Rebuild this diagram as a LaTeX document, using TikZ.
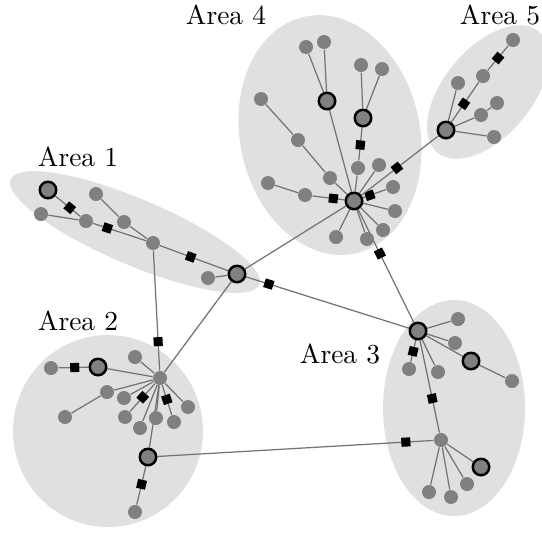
\documentclass[tikz,border=0pt]{standalone}
\usetikzlibrary{backgrounds}
\tikzset{
    mynode/.style = {circle, fill=gray, inner sep=0, minimum size=5.1pt},
    mynodet/.style = {circle, draw=black, line width=0.9pt, fill=gray, inner sep=0, minimum size=6pt},
    edgen/.style = {-, line width=0.45pt, black!55},
    sqr/.style = {rectangle, fill=black, inner sep=0, minimum size=3.3pt, sloped},
    area/.style = {fill=black!12},
    arealabel/.style = {inner sep=0},
}
\begin{document}
\begin{tikzpicture}[x=0.0128cm, y=-0.0128cm]
\useasboundingbox (0,0) rectangle (542,533);

% Area 1
\node[mynodet] at ( 48, 190) (a1) {};
\node[mynode]  at ( 41, 214) (a2) {};
\node[mynode]  at ( 86, 221) (a3) {};
\node[mynode]  at ( 96, 194) (a4) {};
\node[mynode]  at (124, 222) (a5) {};
\node[mynode]  at (153, 243) (a6) {};
\node[mynode]  at (208, 278) (a7) {};
\node[mynodet] at (237, 274) (a8) {};

% Area 2
\node[mynode]  at ( 51, 368) (b1) {};
\node[mynodet] at ( 98, 367) (b2) {};
\node[mynode]  at (160, 378) (b3) {};
\node[mynode]  at (135, 357) (b4) {};
\node[mynode]  at (107, 392) (b5) {};
\node[mynode]  at ( 65, 417) (b6) {};
\node[mynode]  at (124, 398) (b7) {};
\node[mynode]  at (125, 417) (b8) {};
\node[mynode]  at (140, 428) (b9) {};
\node[mynode]  at (156, 418) (b10) {};
\node[mynode]  at (174, 422) (b11) {};
\node[mynode]  at (188, 407) (b12) {};
\node[mynodet] at (148, 457) (b13) {};
\node[mynode]  at (135, 512) (b14) {};

% Area 3
\node[mynodet] at (418, 331) (c1) {};
\node[mynode]  at (458, 319) (c2) {};
\node[mynode]  at (455, 343) (c3) {};
\node[mynodet] at (471, 361) (c4) {};
\node[mynode]  at (512, 381) (c5) {};
\node[mynode]  at (409, 369) (c6) {};
\node[mynode]  at (438, 372) (c7) {};
\node[mynode]  at (441, 440) (c8) {};
\node[mynodet] at (481, 467) (c9) {};
\node[mynode]  at (467, 484) (c10) {};
\node[mynode]  at (451, 497) (c11) {};
\node[mynode]  at (429, 492) (c12) {};

% Area 4
\node[mynode]  at (306,  47) (d1) {};
\node[mynode]  at (324,  42) (d2) {};
\node[mynodet] at (327, 101) (d3) {};
\node[mynode]  at (361,  65) (d4) {};
\node[mynode]  at (382,  69) (d5) {};
\node[mynodet] at (363, 118) (d6) {};
\node[mynode]  at (358, 168) (d7) {};
\node[mynode]  at (261,  99) (d8) {};
\node[mynode]  at (298, 140) (d9) {};
\node[mynode]  at (330, 178) (d10) {};
\node[mynode]  at (379, 165) (d11) {};
\node[mynode]  at (268, 183) (d12) {};
\node[mynode]  at (305, 195) (d13) {};
\node[mynodet] at (354, 201) (d14) {};
\node[mynode]  at (393, 187) (d15) {};
\node[mynode]  at (395, 211) (d16) {};
\node[mynode]  at (383, 230) (d17) {};
\node[mynode]  at (367, 239) (d18) {};
\node[mynode]  at (336, 237) (d19) {};

% Area 5
\node[mynode]  at (513,  40) (e1) {};
\node[mynode]  at (483,  76) (e2) {};
\node[mynode]  at (458,  83) (e3) {};
\node[mynode]  at (497, 103) (e4) {};
\node[mynode]  at (481, 115) (e5) {};
\node[mynodet] at (446, 130) (e6) {};
\node[mynode]  at (494, 137) (e7) {};

\node[arealabel] at ( 78, 157) (l1) {Area 1};
\node[arealabel] at ( 78, 321) (l2) {Area 2};
\node[arealabel] at (340, 354) (l3) {Area 3};
\node[arealabel] at (226,  15) (l4) {Area 4};
\node[arealabel] at (500,  15) (l5) {Area 5};

\begin{scope}[on background layer]
\fill[area, rotate around={-23:(135,232)}] (135,232) ellipse [x radius=135, y radius=33];
\fill[area] (108,431) ellipse [x radius=95, y radius=96];
\fill[area] (454,408) ellipse [x radius=71, y radius=108];
\fill[area, rotate around={12:(330,135)}] (330,135) ellipse [x radius=90, y radius=121];
\fill[area, rotate around={50:(488,92)}] (488,92) ellipse [x radius=79, y radius=44];
\end{scope}

\begin{scope}[on background layer]
\draw[edgen] (a2) -- (a3);
\draw[edgen] (a1) -- node[sqr, pos=.58] {} (a3);
\draw[edgen] (a3) -- node[sqr, pos=.27] {} (a6);
\draw[edgen] (a4) -- (a5);
\draw[edgen] (a5) -- (a6);
\draw[edgen] (a6) -- node[sqr, pos=.45] {} (a8);
\draw[edgen] (a7) -- (a8);

\draw[edgen] (b1) -- node[sqr, pos=.54] {} (b2);
\draw[edgen] (b2) -- (b3);
\draw[edgen] (b4) -- (b3);
\draw[edgen] (b5) -- (b3);
\draw[edgen] (b6) -- (b5);
\draw[edgen] (b7) -- (b3);
\draw[edgen] (b3) -- node[sqr, pos=.49] {} (b8);
\draw[edgen] (b9) -- (b3);
\draw[edgen] (b10) -- (b3);
\draw[edgen] (b3) -- node[sqr, pos=.48] {} (b11);
\draw[edgen] (b12) -- (b3);
\draw[edgen] (b3) -- (b13);
\draw[edgen] (b13) -- node[sqr, pos=.47] {} (b14);

\draw[edgen] (c1) -- (c2);
\draw[edgen] (c1) -- (c3);
\draw[edgen] (c1) -- (c4);
\draw[edgen] (c4) -- (c5);
\draw[edgen] (c1) -- node[sqr, pos=.52] {} (c6);
\draw[edgen] (c1) -- (c7);
\draw[edgen] (c1) -- node[sqr, pos=.63] {} (c8);
\draw[edgen] (c8) -- (c9);
\draw[edgen] (c8) -- (c10);
\draw[edgen] (c8) -- (c11);
\draw[edgen] (c8) -- (c12);

\draw[edgen] (d1) -- (d3);
\draw[edgen] (d2) -- (d3);
\draw[edgen] (d3) -- (d14);
\draw[edgen] (d4) -- (d6);
\draw[edgen] (d5) -- (d6);
\draw[edgen] (d6) -- node[sqr, pos=.53] {} (d7);
\draw[edgen] (d7) -- (d14);
\draw[edgen] (d8) -- (d9);
\draw[edgen] (d9) -- (d10);
\draw[edgen] (d10) -- (d14);
\draw[edgen] (d11) -- (d14);
\draw[edgen] (d12) -- (d13);
\draw[edgen] (d13) -- node[sqr, pos=.65] {} (d14);
\draw[edgen] (d14) -- node[sqr, pos=.3] {} (d15);
\draw[edgen] (d14) -- (d16);
\draw[edgen] (d14) -- (d17);
\draw[edgen] (d14) -- (d18);
\draw[edgen] (d14) -- (d19);

\draw[edgen] (e1) -- node[sqr, pos=.5] {} (e2);
\draw[edgen] (e2) -- node[sqr, pos=.54] {} (e6);
\draw[edgen] (e3) -- (e6);
\draw[edgen] (e4) -- (e5);
\draw[edgen] (e5) -- (e6);
\draw[edgen] (e7) -- (e6);

% links between areas
\draw[edgen] (a6) -- node[sqr, pos=.76] {} (b3);
\draw[edgen] (a8) -- (b3);
\draw[edgen] (a8) -- (d14);
\draw[edgen] (a8) -- node[sqr, pos=.14] {} (c1);
\draw[edgen] (b13) -- node[sqr, pos=.9] {} (c8);
\draw[edgen] (d14) -- node[sqr, pos=.39] {} (c1);
\draw[edgen] (d14) -- node[sqr, pos=.46] {} (e6);
\end{scope}

\end{tikzpicture}
\end{document}
